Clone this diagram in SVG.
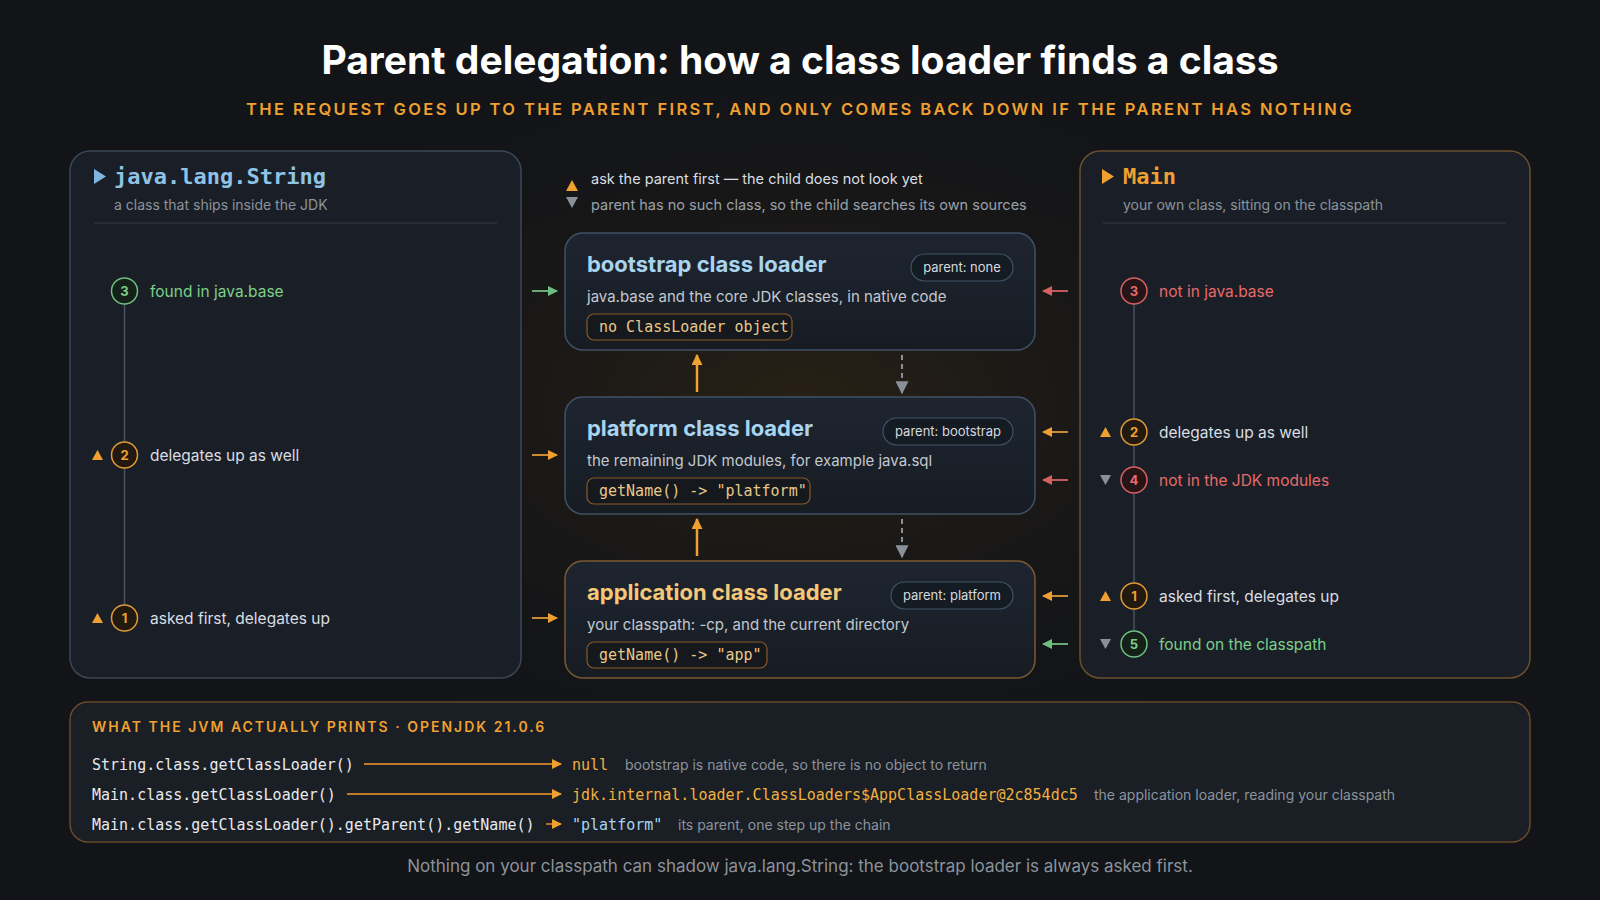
<svg xmlns="http://www.w3.org/2000/svg" width="1600" height="900" viewBox="0 0 1600 900">
<defs>
<radialGradient id="glow" cx="50%" cy="45%" r="45%"><stop offset="0" stop-color="#3a2a12" stop-opacity="0.55"/><stop offset="1" stop-color="#121418" stop-opacity="0"/></radialGradient>
<linearGradient id="card" x1="0" y1="0" x2="0" y2="1"><stop offset="0" stop-color="#1e2530"/><stop offset="1" stop-color="#171c23"/></linearGradient>
<marker id="aO" viewBox="0 0 10 10" refX="9" refY="5" markerWidth="10" markerHeight="10" markerUnits="userSpaceOnUse" orient="auto"><path d="M0,0L10,5L0,10z" fill="#f0a030"/></marker>
<marker id="aOs" viewBox="0 0 10 10" refX="9" refY="5" markerWidth="11" markerHeight="11" markerUnits="userSpaceOnUse" orient="auto"><path d="M0,0L10,5L0,10z" fill="#f0a030"/></marker>
<marker id="aG" viewBox="0 0 10 10" refX="9" refY="5" markerWidth="10" markerHeight="10" markerUnits="userSpaceOnUse" orient="auto"><path d="M0,0L10,5L0,10z" fill="#6fbf80"/></marker>
<marker id="aR" viewBox="0 0 10 10" refX="9" refY="5" markerWidth="10" markerHeight="10" markerUnits="userSpaceOnUse" orient="auto"><path d="M0,0L10,5L0,10z" fill="#d86060"/></marker>
<marker id="aGr" viewBox="0 0 10 10" refX="9" refY="5" markerWidth="13" markerHeight="13" markerUnits="userSpaceOnUse" orient="auto"><path d="M0,0L10,5L0,10z" fill="#8a9099"/></marker>
</defs>
<style>
.sans{font-family:"Inter","Liberation Sans",sans-serif}
.mono{font-family:"DejaVu Sans Mono","Liberation Mono",monospace}
.panel{fill:#1a1f27;stroke:#3b4757;stroke-width:1.5}
.loader{fill:url(#card);stroke:#3f5266;stroke-width:1.5}
.ltitle{font-size:22px;font-weight:700;fill:#a8d4f0}
.desc{font-size:15px;fill:#c3c8cf}
.pill{fill:#151b22;stroke:#3f5266;stroke-width:1.2}
.pilltxt{font-size:13px;fill:#d5d9de}
.code{fill:#15181d;stroke:#8a5a2a;stroke-width:1.2}
.codetxt{font-size:15px;fill:#e8c88a}
.step{font-size:15.5px}
.num{font-size:13px;font-weight:700;text-anchor:middle}
.gtxt{fill:#7ccf8a}.otxt{fill:#d9dde2}.rtxt{fill:#e86a6a}
.cg{fill:#152019;stroke:#6fbf80;stroke-width:1.5}
.co{fill:#221a10;stroke:#e09a35;stroke-width:1.5}
.cr{fill:#261517;stroke:#d86060;stroke-width:1.5}
.tri{fill:#f0a030}.trig{fill:#8a9099}
.ptxt{font-size:15px;fill:#e8eaed}
.res{font-size:15px;fill:#f0b040}
.cmt{font-size:14px;fill:#8c939c}
</style>
<rect width="1600" height="900" fill="#121418"/>
<rect width="1600" height="900" fill="url(#glow)"/>
<text x="800" y="74" text-anchor="middle" class="sans" font-size="39" font-weight="700" fill="#ffffff">Parent delegation: how a class loader finds a class</text>
<text x="800" y="115" text-anchor="middle" class="sans" font-size="16.5" font-weight="600" letter-spacing="2.4" fill="#f0a030">THE REQUEST GOES UP TO THE PARENT FIRST, AND ONLY COMES BACK DOWN IF THE PARENT HAS NOTHING</text>

<g id="legend">
<path d="M566,191 L578,191 L572,180 z" class="tri"/>
<path d="M566,197 L578,197 L572,208 z" class="trig"/>
<text x="591" y="184" class="sans" font-size="14.5" fill="#d9dde2">ask the parent first — the child does not look yet</text>
<text x="591" y="210" class="sans" font-size="14.5" fill="#9aa1aa">parent has no such class, so the child searches its own sources</text>
</g>

<g id="string-panel">
<rect x="70" y="151" width="451" height="527" rx="20" class="panel"/>
<path d="M94,169 L106,176.5 L94,184 z" fill="#7fb5de"/>
<text x="114" y="184" class="mono" font-size="22" font-weight="700" fill="#8fc3e6">java.lang.String</text>
<text x="114" y="210" class="sans" font-size="14" fill="#8c939c">a class that ships inside the JDK</text>
<line x1="94" y1="223" x2="497" y2="223" stroke="#333d4a" stroke-width="1.2"/>
<line x1="124.5" y1="304" x2="124.5" y2="605" stroke="#4a5360" stroke-width="1.5"/>
<circle cx="124.5" cy="291" r="13" class="cg"/><text x="124.5" y="296" class="sans num gtxt">3</text>
<text x="150" y="297" class="sans step gtxt">found in java.base</text>
<path d="M92,460 L103,460 L97.5,450 z" class="tri"/>
<circle cx="124.5" cy="455" r="13" class="co"/><text x="124.5" y="460" class="sans num" style="fill:#f0a030">2</text>
<text x="150" y="461" class="sans step otxt">delegates up as well</text>
<path d="M92,623 L103,623 L97.5,613 z" class="tri"/>
<circle cx="124.5" cy="618" r="13" class="co"/><text x="124.5" y="623" class="sans num" style="fill:#f0a030">1</text>
<text x="150" y="624" class="sans step otxt">asked first, delegates up</text>
</g>

<g id="main-panel">
<rect x="1080" y="151" width="450" height="527" rx="20" class="panel" style="stroke:#6a4f2e"/>
<path d="M1102,169 L1114,176.5 L1102,184 z" fill="#f0a030"/>
<text x="1123" y="184" class="mono" font-size="22" font-weight="700" fill="#f0a030">Main</text>
<text x="1123" y="210" class="sans" font-size="14" fill="#8c939c">your own class, sitting on the classpath</text>
<line x1="1103" y1="223" x2="1506" y2="223" stroke="#333d4a" stroke-width="1.2"/>
<line x1="1134" y1="304" x2="1134" y2="631" stroke="#4a5360" stroke-width="1.5"/>
<circle cx="1134" cy="291" r="13" class="cr"/><text x="1134" y="296" class="sans num rtxt">3</text>
<text x="1159" y="297" class="sans step rtxt">not in java.base</text>
<path d="M1100,437 L1111,437 L1105.5,427 z" class="tri"/>
<circle cx="1134" cy="432" r="13" class="co"/><text x="1134" y="437" class="sans num" style="fill:#f0a030">2</text>
<text x="1159" y="438" class="sans step otxt">delegates up as well</text>
<path d="M1100,475 L1111,475 L1105.5,485 z" class="trig"/>
<circle cx="1134" cy="480" r="13" class="cr"/><text x="1134" y="485" class="sans num rtxt">4</text>
<text x="1159" y="486" class="sans step rtxt">not in the JDK modules</text>
<path d="M1100,601 L1111,601 L1105.5,591 z" class="tri"/>
<circle cx="1134" cy="596" r="13" class="co"/><text x="1134" y="601" class="sans num" style="fill:#f0a030">1</text>
<text x="1159" y="602" class="sans step otxt">asked first, delegates up</text>
<path d="M1100,639 L1111,639 L1105.5,649 z" class="trig"/>
<circle cx="1134" cy="644" r="13" class="cg"/><text x="1134" y="649" class="sans num gtxt">5</text>
<text x="1159" y="650" class="sans step gtxt">found on the classpath</text>
</g>

<g id="bootstrap">
<rect x="565" y="233" width="470" height="117" rx="18" class="loader"/>
<text x="587" y="272" class="sans ltitle">bootstrap class loader</text>
<rect x="911" y="254" width="102" height="27" rx="13.5" class="pill"/>
<text x="962" y="272" text-anchor="middle" class="sans pilltxt">parent: none</text>
<text x="587" y="302" class="sans desc">java.base and the core JDK classes, in native code</text>
<rect x="587" y="314" width="205" height="26" rx="7" class="code"/>
<text x="599" y="332" class="mono codetxt">no ClassLoader object</text>
</g>
<g id="platform">
<rect x="565" y="397" width="470" height="117" rx="18" class="loader"/>
<text x="587" y="436" class="sans ltitle">platform class loader</text>
<rect x="883" y="418" width="130" height="27" rx="13.5" class="pill"/>
<text x="948" y="436" text-anchor="middle" class="sans pilltxt">parent: bootstrap</text>
<text x="587" y="466" class="sans desc">the remaining JDK modules, for example java.sql</text>
<rect x="587" y="478" width="223" height="26" rx="7" class="code"/>
<text x="599" y="496" class="mono codetxt">getName() -&gt; "platform"</text>
</g>
<g id="application">
<rect x="565" y="561" width="470" height="117" rx="18" class="loader" style="stroke:#7a5a30"/>
<text x="587" y="600" class="sans ltitle" style="fill:#f5c878">application class loader</text>
<rect x="891" y="582" width="122" height="27" rx="13.5" class="pill"/>
<text x="952" y="600" text-anchor="middle" class="sans pilltxt">parent: platform</text>
<text x="587" y="630" class="sans desc">your classpath: -cp, and the current directory</text>
<rect x="587" y="642" width="180" height="26" rx="7" class="code"/>
<text x="599" y="660" class="mono codetxt">getName() -&gt; "app"</text>
</g>

<g id="connectors">
<line x1="697" y1="392" x2="697" y2="355" stroke="#f0a030" stroke-width="2.5" marker-end="url(#aOs)"/>
<line x1="697" y1="556" x2="697" y2="519" stroke="#f0a030" stroke-width="2.5" marker-end="url(#aOs)"/>
<line x1="902" y1="355" x2="902" y2="393" stroke="#8a9099" stroke-width="2" stroke-dasharray="5,4" marker-end="url(#aGr)"/>
<line x1="902" y1="519" x2="902" y2="557" stroke="#8a9099" stroke-width="2" stroke-dasharray="5,4" marker-end="url(#aGr)"/>
<line x1="532" y1="291" x2="557" y2="291" stroke="#6fbf80" stroke-width="1.8" marker-end="url(#aG)"/>
<line x1="532" y1="455" x2="557" y2="455" stroke="#e09a35" stroke-width="1.8" marker-end="url(#aO)"/>
<line x1="532" y1="618" x2="557" y2="618" stroke="#e09a35" stroke-width="1.8" marker-end="url(#aO)"/>
<line x1="1068" y1="291" x2="1043" y2="291" stroke="#d86060" stroke-width="1.8" marker-end="url(#aR)"/>
<line x1="1068" y1="432" x2="1043" y2="432" stroke="#e09a35" stroke-width="1.8" marker-end="url(#aO)"/>
<line x1="1068" y1="480" x2="1043" y2="480" stroke="#d86060" stroke-width="1.8" marker-end="url(#aR)"/>
<line x1="1068" y1="596" x2="1043" y2="596" stroke="#e09a35" stroke-width="1.8" marker-end="url(#aO)"/>
<line x1="1068" y1="644" x2="1043" y2="644" stroke="#6fbf80" stroke-width="1.8" marker-end="url(#aG)"/>
</g>

<g id="prints">
<rect x="70" y="702" width="1460" height="140" rx="18" fill="#1a1e25" stroke="#6a4a28" stroke-width="1.5"/>
<text x="92" y="732" class="sans" font-size="14" font-weight="600" letter-spacing="2" fill="#f0a030">WHAT THE JVM ACTUALLY PRINTS · OPENJDK 21.0.6</text>
<text x="92" y="770" class="mono ptxt">String.class.getClassLoader()</text>
<line x1="364" y1="764" x2="561" y2="764" stroke="#c07a28" stroke-width="1.8" marker-end="url(#aO)"/>
<text x="572" y="770" class="mono res">null</text>
<text x="625" y="770" class="sans cmt">bootstrap is native code, so there is no object to return</text>
<text x="92" y="800" class="mono ptxt">Main.class.getClassLoader()</text>
<line x1="347" y1="794" x2="561" y2="794" stroke="#c07a28" stroke-width="1.8" marker-end="url(#aO)"/>
<text x="572" y="800" class="mono res">jdk.internal.loader.ClassLoaders$AppClassLoader@2c854dc5</text>
<text x="1094" y="800" class="sans cmt">the application loader, reading your classpath</text>
<text x="92" y="830" class="mono ptxt">Main.class.getClassLoader().getParent().getName()</text>
<line x1="546" y1="824" x2="561" y2="824" stroke="#c07a28" stroke-width="1.8" marker-end="url(#aO)"/>
<text x="572" y="830" class="mono res" style="fill:#a8d4f0">"platform"</text>
<text x="678" y="830" class="sans cmt">its parent, one step up the chain</text>
</g>
<text x="800" y="872" text-anchor="middle" class="sans" font-size="17" fill="#8c939c">Nothing on your classpath can shadow java.lang.String: the bootstrap loader is always asked first.</text>
</svg>
